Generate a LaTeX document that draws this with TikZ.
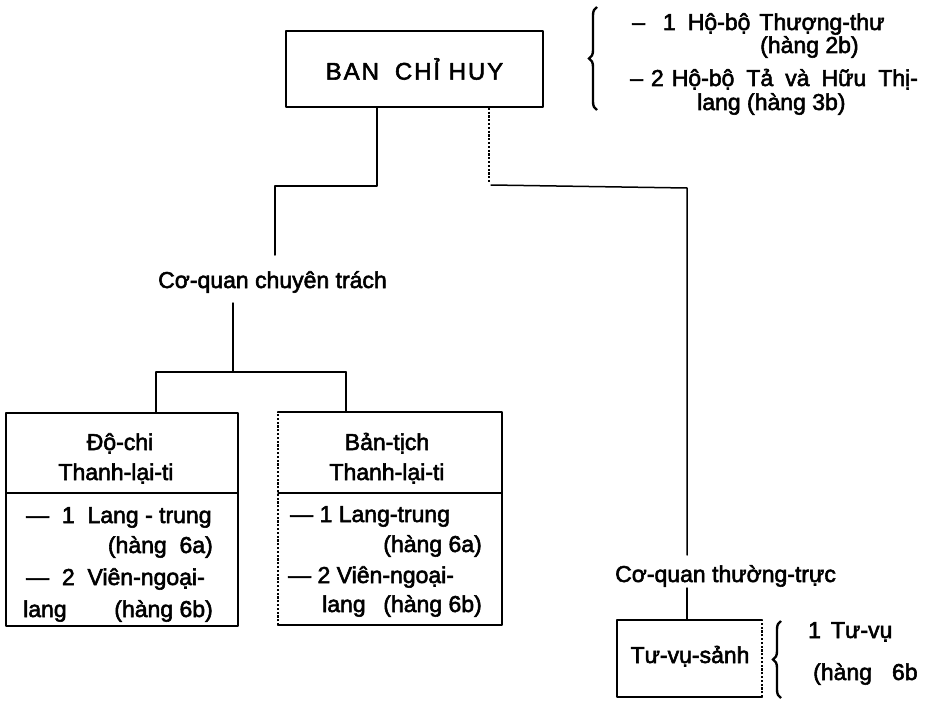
\documentclass[tikz,border=0pt]{standalone}
\usepackage{fontspec}
\setmainfont{Liberation Sans}
\usetikzlibrary{decorations.pathreplacing}
\newcommand{\heavytext}{\special{pdf:literal direct 2 Tr 0.55 w}}
\begin{document}
\begin{tikzpicture}[x=1pt,y=1pt,
  txt/.style={inner sep=0pt, anchor=base west, font=\fontsize{23}{27}\selectfont\heavytext},
  txtc/.style={txt, anchor=base},
  txte/.style={txt, anchor=base east},
  ln/.style={line width=1.5pt, line cap=round, line join=round},
  dln/.style={line width=1.5pt, dash pattern=on 2.2pt off 1.6pt},
  boxn/.style={inner sep=0pt, draw=none},
  brc/.style={line width=2.4pt, decorate, decoration={brace, amplitude=8pt}}]
\useasboundingbox (0,0) rectangle (930,-701);

% ---- BAN CHI HUY
\node[boxn, draw, ln, minimum width=257pt, minimum height=76pt,
      font=\fontsize{24}{28}\selectfont\addfontfeatures{LetterSpace=8}\heavytext] (ban) at (414.5,-69)
      {BAN\hspace{16pt}CHỈ HUY};

% ---- top right brace and text
\draw[brc] (597,-110) -- (597,-7);
\node[txt] (t1) at (632,-30) {–\hspace{18pt}1\hspace{12pt}Hộ-bộ\hspace{9pt}Thượng-thư};
\node[txt] (t2) at (760,-53) {(hàng 2b)};
\node[txt] (t3) at (630,-86) {–\hspace{8pt}2\hspace{8pt}Hộ-bộ\hspace{12pt}Tả\hspace{12pt}và\hspace{12pt}Hữu\hspace{12pt}Thị-};
\node[txt] (t4) at (697,-110) {lang (hàng 3b)};

% ---- coordinates for connectors
\coordinate (j1) at (377,-186);
\coordinate (j1l) at (275,-186);
\coordinate (cq1top) at (275,-255);
\coordinate (d1) at (489,-183);
\coordinate (h1) at (491,-185);
\coordinate (h2) at (687,-188);
\coordinate (cq2top) at (687,-555);

% ---- Co-quan chuyen trach
\node[txt] (cq1) at (158,-288) {Cơ-quan chuyên trách};
\coordinate (c1a) at (233,-303);
\coordinate (c1b) at (233,-372);
\coordinate (c1l) at (156,-372);
\coordinate (c1r) at (346,-372);

% ---- Box 1
\node[boxn, minimum width=232pt, minimum height=213pt] (b1) at (122,-519.5) {};
\draw[ln] (b1.north west) rectangle (b1.south east);
\coordinate (b1dl) at (6,-493);
\coordinate (b1dr) at (238,-493);
\draw[ln] (b1dl) -- (b1dr);
\node[txtc] (b1a) at (120,-450) {Độ-chi};
\node[txtc] (b1b) at (116,-480) {Thanh-lại-ti};
\node[txt] (b1c) at (26,-523) {—\ \ 1\ \ Lang - trung};
\node[txte] (b1d) at (213,-553) {(hàng\ \ 6a)};
\node[txt] (b1e) at (26,-585) {—\ \ 2\ \ Viên-ngoại-};
\node[txt] (b1f) at (23,-617) {lang};
\node[txte] (b1g) at (213,-617) {(hàng 6b)};

% ---- Box 2
\node[boxn, minimum width=224pt, minimum height=213pt] (b2) at (390,-518.5) {};
\draw[ln] (b2.north west) -- (b2.north east) -- (b2.south east) -- (b2.south west);
\draw[dln] (b2.south west) -- (b2.north west);
\coordinate (b2dl) at (278,-493);
\coordinate (b2dr) at (502,-493);
\draw[ln] (b2dl) -- (b2dr);
\node[txtc] (b2a) at (387,-450) {Bản-tịch};
\node[txtc] (b2b) at (387,-480) {Thanh-lại-ti};
\node[txt] (b2c) at (290,-522) {—\ 1 Lang-trung};
\node[txte] (b2d) at (482,-552) {(hàng 6a)};
\node[txt] (b2e) at (288,-583) {—\ 2 Viên-ngoại-};
\node[txt] (b2f) at (322,-612) {lang};
\node[txte] (b2g) at (482,-612) {(hàng 6b)};

% ---- Co-quan thuong-truc and box 3
\node[txt] (cq2) at (615,-582) {Cơ-quan thường-trực};
\coordinate (c2a) at (687,-588);
\node[boxn, minimum width=145pt, minimum height=77pt] (b3) at (689.5,-658.5) {};
\draw[ln] (b3.north east) -- (b3.north west) -- (b3.south west) -- (b3.south east);
\draw[dln] (b3.south east) -- (b3.north east);
\node[txtc] (b3t) at (690,-663) {Tư-vụ-sảnh};
\draw[brc] (781,-698) -- (781,-621);
\node[txt] (r1) at (808,-638) {1\hspace{10pt}Tư-vụ};
\node[txt] (r2) at (813,-680) {(hàng\hspace{20pt}6b};

% ---- connectors
\draw[ln] (ban.south -| j1) -- (j1) -- (j1l) -- (cq1top);
\draw[dln] (ban.south -| d1) -- (d1);
\draw[ln] (h1) -- (h2) -- (cq2top);
\draw[ln] (c1a) -- (c1b);
\draw[ln] (c1l) -- (c1r);
\draw[ln] (c1l) -- (b1.north -| c1l);
\draw[ln] (c1r) -- (b2.north -| c1r);
\draw[ln] (c2a) -- (b3.north -| c2a);
\end{tikzpicture}
\end{document}
